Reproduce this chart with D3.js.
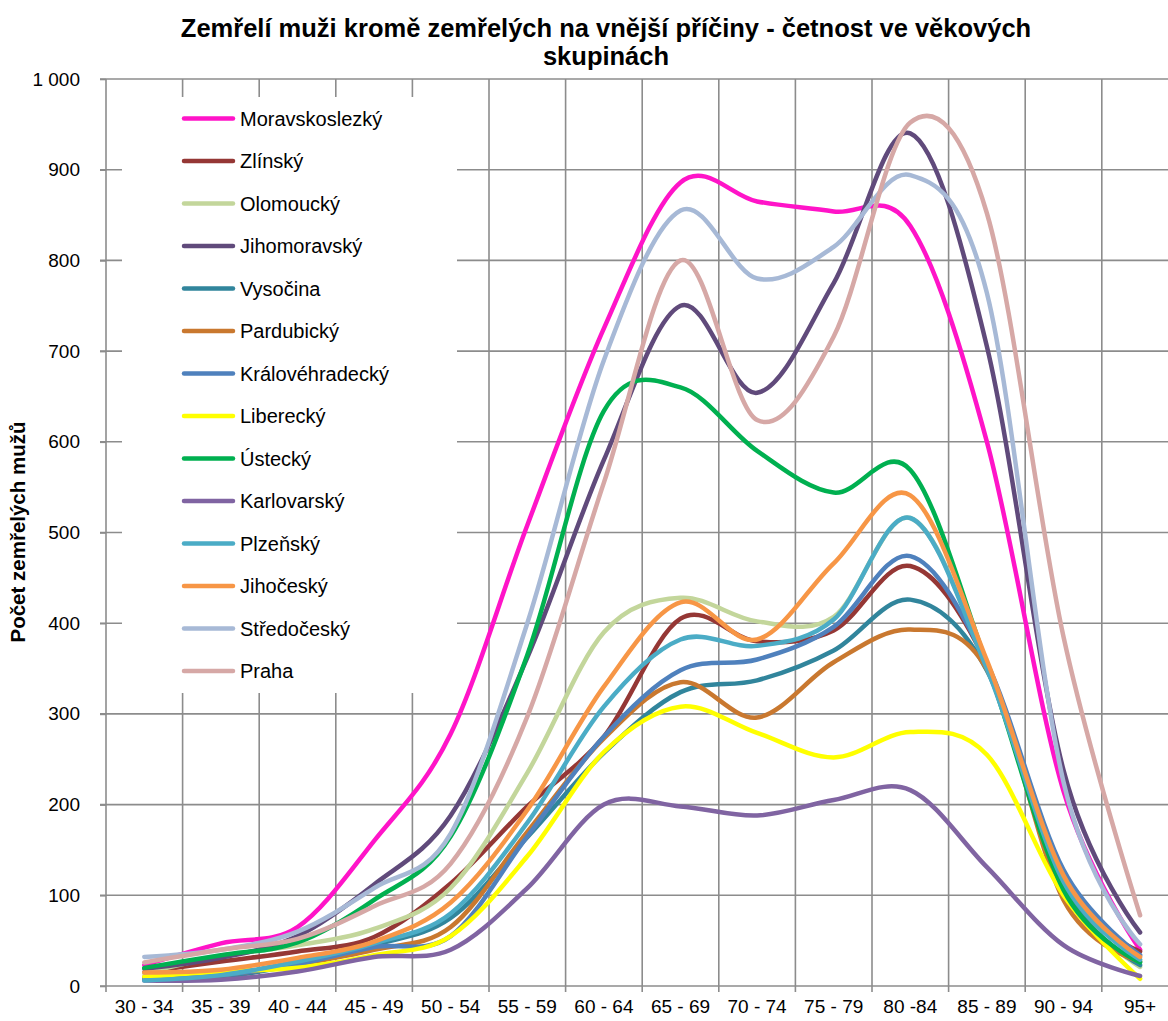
<!DOCTYPE html>
<html>
<head>
<meta charset="utf-8">
<script src="https://cdn.jsdelivr.net/npm/d3@7"></script>
<style>
    body { margin: 0; background: #fff; }
    svg { display: block; font-family: "Liberation Sans", Arial, sans-serif; }
    .grid line { stroke: #8c8c8c; stroke-width: 1.6px; }
    .axis path { display: none; }
    .axis line { stroke: #8c8c8c; stroke-width: 1.6px; }
    .axis text { font-size: 19px; fill: #000; }
</style>
</head>
<body>
<svg width="1168" height="1021"></svg>
<script>
'use strict';

// age groups on the x axis
const categories = ["30 - 34", "35 - 39", "40 - 44", "45 - 49", "50 - 54", "55 - 59", "60 - 64",
    "65 - 69", "70 - 74", "75 - 79", "80 -84", "85 - 89", "90 - 94", "95+"];

const yTicks = [0, 100, 200, 300, 400, 500, 600, 700, 800, 900, 1000];

// series
const moravskoslezky = [23, 47, 65, 160, 278, 508, 725, 886, 865, 854, 838, 600, 215, 40];
const zlinsky = [15, 27, 38, 54, 113, 198, 275, 405, 380, 392, 463, 355, 112, 38];
const olomoucky = [14, 33, 45, 63, 108, 235, 390, 428, 402, 407, 516, 352, 110, 21];
const jihomoravsky = [19, 31, 55, 112, 188, 362, 580, 750, 654, 775, 940, 705, 238, 59];
const vysocina = [8, 10, 24, 45, 75, 164, 257, 324, 337, 370, 426, 348, 108, 23];
const pardubicky = [10, 12, 24, 40, 65, 170, 273, 335, 296, 357, 393, 349, 95, 27];
const kralovehradecky = [8, 12, 24, 43, 55, 165, 275, 348, 360, 396, 474, 356, 128, 34];
const liberecky = [10, 16, 20, 34, 55, 143, 258, 308, 279, 252, 280, 255, 100, 8];
const ustecky = [20, 34, 48, 95, 165, 365, 634, 660, 590, 544, 569, 355, 106, 26];
const karlovarsky = [6, 7, 16, 32, 40, 108, 200, 198, 188, 205, 216, 131, 45, 11];
const plzensky = [6, 12, 27, 47, 80, 180, 308, 382, 375, 404, 516, 350, 115, 29];
const jihocesky = [15, 18, 31, 49, 92, 194, 330, 423, 382, 466, 541, 359, 122, 32];
const stredocesky = [32, 40, 60, 108, 168, 400, 690, 855, 780, 815, 894, 764, 225, 46];
const praha = [26, 40, 52, 88, 135, 297, 555, 800, 624, 716, 952, 852, 385, 78];

const seriesNames = ["Moravskoslezký", "Zlínský", "Olomoucký", "Jihomoravský", "Vysočina", "Pardubický",
    "Královéhradecký", "Liberecký", "Ústecký", "Karlovarský", "Plzeňský", "Jihočeský", "Středočeský", "Praha"];
const seriesValues = [moravskoslezky, zlinsky, olomoucky, jihomoravsky, vysocina, pardubicky,
    kralovehradecky, liberecky, ustecky, karlovarsky, plzensky, jihocesky, stredocesky, praha];
const seriesColors = ["#ff14c8", "#953735", "#c3d69b", "#604a7b", "#31859c", "#c9782f",
    "#4f81bd", "#ffff00", "#00b050", "#8064a2", "#4bacc6", "#f79646", "#a7b9d6", "#d6a8a6"];

const series = seriesNames.map(function (name, i) {
    return {name: name, values: seriesValues[i], color: seriesColors[i]};
});

var svg = d3.select("svg");

// plot runs past the right edge of the picture, like the original
var x = d3.scaleBand()
    .domain(categories)
    .range([106, 106 + 76.6 * categories.length])
    .padding(0);

var y = d3.scaleLinear()
    .domain([0, 1000])
    .range([986, 79]);

var bw = x.bandwidth();
var plotRight = x.range()[1];

// gridlines
var grid = svg.append("g").attr("class", "grid");
grid.selectAll("line.h")
    .data(yTicks)
    .enter().append("line")
    .attr("class", "h")
    .attr("x1", 100)
    .attr("x2", plotRight)
    .attr("y1", function (d) { return y(d); })
    .attr("y2", function (d) { return y(d); });

grid.selectAll("line.v")
    .data(d3.range(categories.length + 1))
    .enter().append("line")
    .attr("class", "v")
    .attr("x1", function (i) { return 106 + i * bw; })
    .attr("x2", function (i) { return 106 + i * bw; })
    .attr("y1", y(1000))
    .attr("y2", y(0) + 6);

// legend box sits inside the plot and hides the grid behind it
var legend = svg.append("g");
legend.append("rect")
    .attr("x", 122)
    .attr("y", 97)
    .attr("width", 335)
    .attr("height", 596)
    .attr("fill", "#fff");

var legendItem = legend.selectAll("g.item")
    .data(series)
    .enter().append("g")
    .attr("class", "item")
    .attr("transform", function (d, i) { return "translate(0," + (118.5 + i * 42.5) + ")"; });

legendItem.append("line")
    .attr("x1", 184)
    .attr("x2", 233)
    .attr("stroke", function (d) { return d.color; })
    .attr("stroke-width", 4.5)
    .attr("stroke-linecap", "round");

legendItem.append("text")
    .attr("x", 240)
    .attr("y", 7)
    .style("font-size", "20px")
    .text(function (d) { return d.name; });

// axes
var czech = d3.formatLocale({decimal: ",", thousands: " ", grouping: [3], currency: ["", " Kč"]});

svg.append("g")
    .attr("class", "axis")
    .attr("transform", "translate(106,0)")
    .call(d3.axisLeft(y).tickValues(yTicks).tickSize(6).tickPadding(20).tickFormat(czech.format(",d")));

svg.append("g")
    .attr("class", "axis")
    .attr("transform", "translate(0," + y(0) + ")")
    .call(d3.axisBottom(x).tickSize(0).tickPadding(14));

// lines
var line = d3.line()
    .x(function (d, i) { return x(categories[i]) + bw / 2; })
    .y(function (d) { return y(d); })
    .curve(d3.curveCardinal);

svg.append("g").selectAll("path")
    .data(series)
    .enter().append("path")
    .attr("d", function (d) { return line(d.values); })
    .attr("fill", "none")
    .attr("stroke", function (d) { return d.color; })
    .attr("stroke-width", 4.5)
    .attr("stroke-linejoin", "round")
    .attr("stroke-linecap", "round");

// titles
var title = svg.append("text")
    .attr("x", 606)
    .attr("y", 37)
    .attr("text-anchor", "middle")
    .style("font-size", "25.5px")
    .style("font-weight", "bold");
title.append("tspan").attr("x", 606).text("Zemřelí muži kromě zemřelých na vnější příčiny - četnost ve věkových");
title.append("tspan").attr("x", 606).attr("dy", 28).text("skupinách");

svg.append("text")
    .attr("transform", "translate(25,532) rotate(-90)")
    .attr("text-anchor", "middle")
    .style("font-size", "20.5px")
    .style("font-weight", "bold")
    .text("Počet zemřelých mužů");
</script>
</body>
</html>
